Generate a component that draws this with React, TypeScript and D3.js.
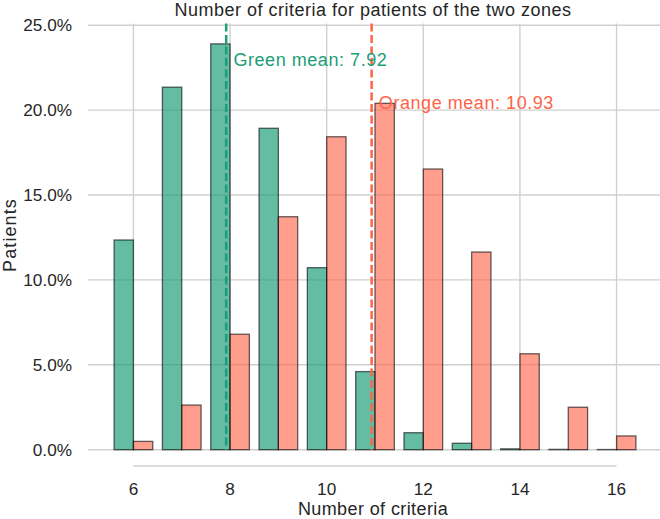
import React from "react";
import * as d3 from "d3";

const criteria = [6, 7, 8, 9, 10, 11, 12, 13, 14, 15, 16];
const greenPct = [12.35, 21.35, 23.9, 18.93, 10.72, 4.6, 1.0, 0.38, 0.05, 0.02, 0.01];
const orangePct = [0.49, 2.63, 6.8, 13.72, 18.43, 20.4, 16.53, 11.64, 5.65, 2.5, 0.81];
const greenMean = 7.92;
const orangeMean = 10.93;
const xTicks = [6, 8, 10, 12, 14, 16];
const yTicks = [0, 5, 10, 15, 20, 25];

const W = 660;
const H = 519;
const FONT = "'Liberation Sans', Arial, sans-serif";

export default function App() {
  const x = d3.scaleLinear().domain([5.06, 16.94]).range([88, 662]);
  const y = d3.scaleLinear().domain([0, 25.1]).range([449.7, 23.5]);
  const bw = 0.4;
  const fmt = (v: number) => d3.format(".1f")(v) + "%";
  const green = "#1b9e77";
  const orange = "#ff6347";
  const grid = "#d0d0d0";
  const txt = "#262626";

  return (
    <svg
      width={W}
      height={H}
      style={{ position: "absolute", left: 0, top: 0, background: "#fff" }}
      fontFamily={FONT}
    >
      {/* grid */}
      {yTicks.map((t) => (
        <line key={"gy" + t} x1={88} x2={662} y1={y(t)} y2={y(t)} stroke={grid} strokeWidth={1.4} />
      ))}
      {xTicks.map((t) => (
        <line key={"gx" + t} x1={x(t)} x2={x(t)} y1={y(25.1)} y2={y(0)} stroke={grid} strokeWidth={1.4} />
      ))}
      {/* bars */}
      {criteria.map((c, i) => (
        <rect
          key={"g" + c}
          x={x(c - bw)}
          width={x(c) - x(c - bw)}
          y={y(greenPct[i])}
          height={y(0) - y(greenPct[i])}
          fill={green}
          fillOpacity={0.68}
          stroke="#000"
          strokeOpacity={0.6}
          strokeWidth={1.3}
        />
      ))}
      {criteria.map((c, i) => (
        <rect
          key={"o" + c}
          x={x(c)}
          width={x(c + bw) - x(c)}
          y={y(orangePct[i])}
          height={y(0) - y(orangePct[i])}
          fill={orange}
          fillOpacity={0.62}
          stroke="#000"
          strokeOpacity={0.6}
          strokeWidth={1.3}
        />
      ))}
      {/* mean lines */}
      <line x1={x(greenMean)} x2={x(greenMean)} y1={y(25.1)} y2={y(0)} stroke={green} strokeWidth={2.5} strokeDasharray="8 3.5" />
      <line x1={x(orangeMean)} x2={x(orangeMean)} y1={y(25.1)} y2={y(0)} stroke={orange} strokeWidth={2.5} strokeDasharray="8 3.5" />
      <text x={x(greenMean + 0.15)} y={y(25.1 * 0.9)} fill={green} fontSize={18} letterSpacing={0.55}>
        Green mean: {greenMean.toFixed(2)}
      </text>
      <text x={x(orangeMean + 0.15)} y={y(25.1 * 0.8)} fill={orange} fontSize={18} letterSpacing={0.55}>
        Orange mean: {orangeMean.toFixed(2)}
      </text>
      {/* x spine */}
      <line x1={x(6)} x2={x(16)} y1={466} y2={466} stroke={grid} strokeWidth={1.6} />
      {/* tick labels */}
      {xTicks.map((t) => (
        <text key={"xl" + t} x={x(t)} y={495} textAnchor="middle" fontSize={17.2} fill={txt}>
          {t}
        </text>
      ))}
      {yTicks.map((t) => (
        <text key={"yl" + t} x={72} y={y(t)} dy="0.35em" textAnchor="end" fontSize={17.2} fill={txt}>
          {fmt(t)}
        </text>
      ))}
      {/* labels */}
      <text x={373} y={15.5} textAnchor="middle" fontSize={18} letterSpacing={0.5} fill={txt}>
        Number of criteria for patients of the two zones
      </text>
      <text x={373} y={515} textAnchor="middle" fontSize={18} letterSpacing={0.4} fill={txt}>
        Number of criteria
      </text>
      <text transform={`translate(16,235) rotate(-90)`} textAnchor="middle" fontSize={18} letterSpacing={1.1} fill={txt}>
        Patients
      </text>
    </svg>
  );
}
